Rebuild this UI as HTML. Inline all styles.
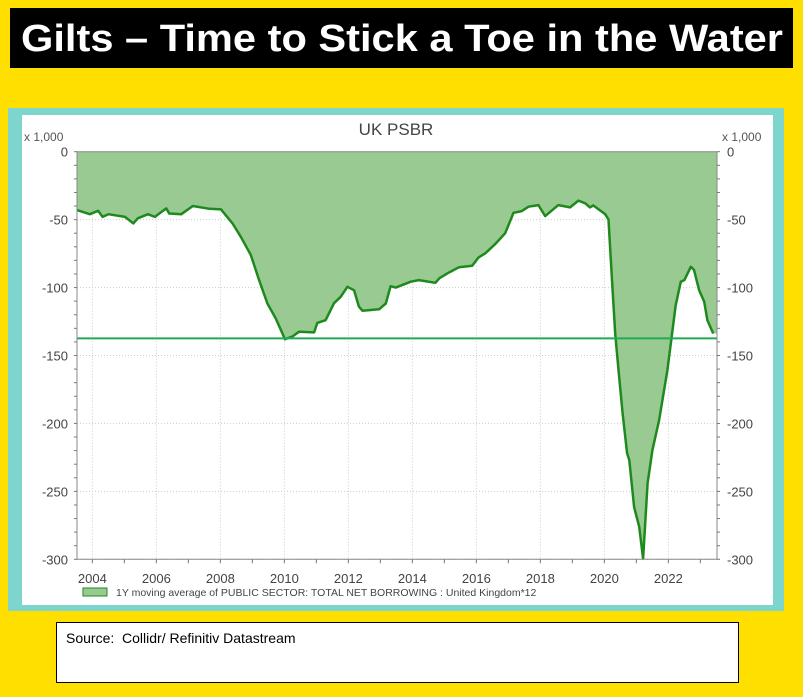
<!DOCTYPE html>
<html><head><meta charset="utf-8"><style>
html,body{margin:0;padding:0;background:#FFDF00;}
svg{display:block;font-family:"Liberation Sans",sans-serif;}
</style></head><body>
<svg id="c" width="803" height="697" viewBox="0 0 803 697">
<rect x="0" y="0" width="803" height="697" fill="#FFDF00"/>
<rect x="10" y="8" width="783" height="60" fill="#000"/>
<text x="402" y="51" text-anchor="middle" fill="#fff" font-weight="bold" font-size="38" textLength="762" lengthAdjust="spacingAndGlyphs">Gilts – Time to Stick a Toe in the Water</text>
<rect x="8" y="108" width="776" height="503" fill="#7ED5CD"/>
<rect x="22" y="115" width="751" height="490" fill="#fff"/>
<text x="396" y="135" text-anchor="middle" font-size="17" fill="#444">UK PSBR</text>
<text x="24" y="141" font-size="12" fill="#555">x 1,000</text>
<text x="722" y="141" font-size="12" fill="#555">x 1,000</text>
<g id="grid"></g>
<g id="series"></g>
<g id="axes"></g>
<rect x="83" y="588" width="24" height="8" fill="#99CA92" stroke="#1E8A1E"/>
<text x="116" y="596" font-size="10.5" fill="#444">1Y moving average of PUBLIC SECTOR: TOTAL NET BORROWING : United Kingdom*12</text>
<rect x="56.5" y="622.5" width="682" height="60" fill="#fff" stroke="#000"/>
<text x="66" y="643" font-size="14" fill="#000" xml:space="preserve">Source:  Collidr/ Refinitiv Datastream</text>
</svg>
<script>
const years=[2003.52,2003.92,2004.18,2004.32,2004.5,2005.02,2005.28,2005.42,2005.74,2005.95,2006.31,2006.4,2006.78,2007.14,2007.66,2008.02,2008.38,2008.64,2008.95,2009.21,2009.47,2009.73,2010.02,2010.25,2010.46,2010.93,2011.03,2011.29,2011.55,2011.76,2011.97,2012.18,2012.33,2012.44,2012.96,2013.17,2013.32,2013.48,2013.95,2014.2,2014.72,2014.85,2015.14,2015.46,2015.87,2016.07,2016.28,2016.59,2016.9,2017.16,2017.42,2017.63,2017.94,2018.15,2018.56,2018.93,2019.19,2019.4,2019.55,2019.65,2020.03,2020.13,2020.24,2020.34,2020.45,2020.57,2020.71,2020.78,2020.93,2021.09,2021.21,2021.35,2021.5,2021.71,2021.97,2022.23,2022.39,2022.5,2022.7,2022.8,2022.96,2023.12,2023.22,2023.4];
const values=[-43,-46,-43.5,-48,-46,-48,-52.8,-49,-46,-48,-41.7,-45.5,-46,-40,-42,-42.5,-52.8,-62.6,-76,-94.5,-111.7,-122.7,-138,-136,-132.5,-133,-126,-124,-111.5,-106.8,-99.4,-102,-114,-117,-116,-111.7,-99,-100,-95.7,-94.5,-96.5,-93,-89,-85,-84,-77.8,-74.8,-68,-60,-45,-43.7,-40.5,-39.3,-47.4,-39.3,-41,-36,-38,-41,-39.5,-46,-50,-94.5,-133.8,-163,-192.5,-222,-227,-261.5,-276,-299.5,-244,-219.7,-197.6,-160.8,-113,-95.7,-94.5,-84.7,-87,-101.9,-110.5,-124,-133.8];
const yTicks=[0,-50,-100,-150,-200,-250,-300];
const xTicks=[2004,2006,2008,2010,2012,2014,2016,2018,2020,2022];
const refLevel=[-137.4];
const X0=77,X1=717,Y0=151.7,Y1=559.3,YR0=2003.52,YR1=2023.52;
const sx=v=>X0+(v-YR0)/(YR1-YR0)*(X1-X0);
const sy=v=>Y0+(0-v)/300*(Y1-Y0);
const NS="http://www.w3.org/2000/svg";
function mk(tag,attrs,parent){const e=document.createElementNS(NS,tag);for(const k in attrs)e.setAttribute(k,attrs[k]);parent.appendChild(e);return e;}
const grid=document.getElementById('grid'),ser=document.getElementById('series'),ax=document.getElementById('axes');
yTicks.forEach(t=>{
 const l=mk('line',{x1:X0,x2:X1,y1:sy(t),y2:sy(t),stroke:'#ccc','stroke-dasharray':'1,2'},grid);
 
 
 const a=mk('text',{x:68,y:sy(t)+5,'text-anchor':'end','font-size':'13',fill:'#444'},ax);a.textContent=t;
 
 
 const b=mk('text',{x:727,y:sy(t)+5,'font-size':'13',fill:'#444'},ax);b.textContent=t;
 
 
});
for(let v=0;v>=-300;v-=10){mk('line',{x1:X0-3,x2:X0,y1:sy(v),y2:sy(v),stroke:'#777'},ax);mk('line',{x1:X1,x2:X1+3,y1:sy(v),y2:sy(v),stroke:'#777'},ax);}
xTicks.forEach(t=>{
 const l=mk('line',{x1:sx(t),x2:sx(t),y1:Y0,y2:Y1,stroke:'#ccc','stroke-dasharray':'1,2'},grid);
 
 
 const a=mk('text',{x:sx(t),y:583,'text-anchor':'middle','font-size':'13',fill:'#444'},ax);a.textContent=t;
 
 
});
for(let y=2004;y<=2023;y++){mk('line',{x1:sx(y),x2:sx(y),y1:Y1,y2:Y1+4,stroke:'#777'},ax);}
let d='M'+X0+','+sy(0);
years.forEach((y,i)=>{d+=' L'+sx(y).toFixed(1)+','+sy(values[i]).toFixed(1);});
d+=' L'+X1+','+sy(values[values.length-1]).toFixed(1)+' L'+X1+','+sy(0)+' Z';
const area=mk('path',{d:d,fill:'#99CA92'},ser);


const line=mk('polyline',{points:years.map((y,i)=>sx(y).toFixed(1)+','+sy(values[i]).toFixed(1)).join(' '),fill:'none',stroke:'#1E8A1E','stroke-width':'2.5','stroke-linejoin':'round'},ser);


const ref=mk('line',{x1:X0,x2:X1,y1:sy(refLevel[0]),y2:sy(refLevel[0]),stroke:'#22AA55','stroke-width':'2'},ser);


const fr=mk('path',{d:'M'+X0+','+Y1+' L'+X0+','+Y0+' L'+X1+','+Y0+' L'+X1+','+Y1+' L'+X0+','+Y1,fill:'none',stroke:'#888','stroke-width':'1'},ax);


</script>
</body></html>
